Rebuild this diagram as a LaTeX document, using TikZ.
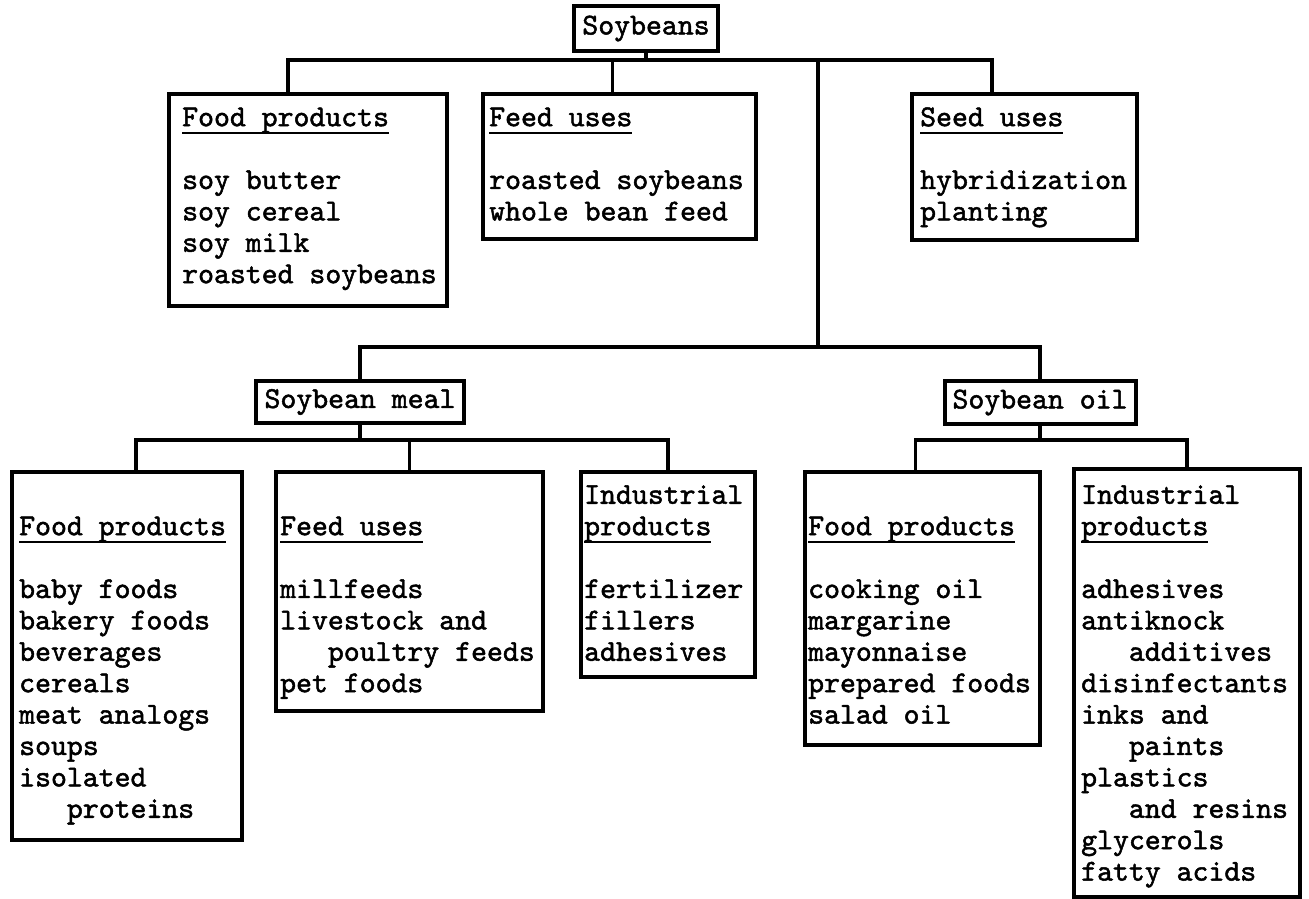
\documentclass[tikz,border=0pt]{standalone}
\usepackage{fontspec}
\newfontfamily\twfont{lmmono10-regular.otf}[FakeBold=1.6]
\newcommand\tf{\twfont\bfseries\fontsize{30.3}{31.4}\selectfont}
\newcommand\hdrline[1]{\setbox0=\hbox{#1}\rlap{\rule[-8pt]{\wd0}{2pt}}\box0}
\newcommand\ind{\phantom{xxx}}
\begin{document}
\begin{tikzpicture}[x=1pt,y=-1pt,
  box/.style={draw,line width=4pt,rectangle,inner sep=0pt,anchor=north west},
  lbl/.style={draw,line width=4pt,rectangle,inner sep=0pt,font=\tf},
  txt/.style={anchor=north west,inner sep=0pt,align=left,font=\tf},
  conn/.style={line width=3.5pt,line join=miter}]
\useasboundingbox[fill=white] (0,0) rectangle (1309,898);

% top level
\node[lbl,minimum width=144pt,minimum height=45pt] (soy) at (646,28.5) {Soybeans};
\node[box,minimum width=278pt,minimum height=212pt] (ft) at (167,92) {};
\node[box,minimum width=273pt,minimum height=145pt] (fdt) at (481,92) {};
\node[box,minimum width=225pt,minimum height=146pt] (st) at (910,92) {};
\node[txt] (ftx) at (182,104) {\strut\hdrline{Food products}\\ \\soy butter\\soy cereal\\soy milk\\roasted soybeans};
\node[txt] (fdtx) at (489,104) {\strut\hdrline{Feed uses}\\ \\roasted soybeans\\whole bean feed};
\node[txt] (stx) at (920,104) {\strut\hdrline{Seed uses}\\ \\hybridization\\planting};

% middle level
\node[lbl,minimum width=208pt,minimum height=42pt] (meal) at (360,402) {Soybean meal};
\node[lbl,minimum width=191pt,minimum height=43pt] (oil) at (1040,402.5) {Soybean oil};

% bottom level
\node[box,minimum width=230pt,minimum height=368pt] (fm) at (10,470) {};
\node[box,minimum width=267pt,minimum height=239pt] (fdm) at (274,470) {};
\node[box,minimum width=174pt,minimum height=205pt] (im) at (579,470) {};
\node[box,minimum width=235pt,minimum height=273pt] (fo) at (803,470) {};
\node[box,minimum width=226pt,minimum height=428pt] (io) at (1072,467) {};

\node[txt] (fmx) at (19,513) {\strut\hdrline{Food products}\\ \\baby foods\\bakery foods\\beverages\\cereals\\meat analogs\\soups\\isolated\\\ind proteins};
\node[txt] (fdmx) at (280,513) {\strut\hdrline{Feed uses}\\ \\millfeeds\\livestock and\\\ind poultry feeds\\pet foods};
\node[txt] (imx) at (584,481.6) {\strut Industrial\\\hdrline{products}\\ \\fertilizer\\fillers\\adhesives};
\node[txt] (fox) at (808,513) {\strut\hdrline{Food products}\\ \\cooking oil\\margarine\\mayonnaise\\prepared foods\\salad oil};
\node[txt] (iox) at (1081,481.6) {\strut Industrial\\\hdrline{products}\\ \\adhesives\\antiknock\\\ind additives\\disinfectants\\inks and\\\ind paints\\plastics\\\ind and resins\\glycerols\\fatty acids};

% connectors
\coordinate (t1) at (288,60);
\coordinate (t2) at (992,60);
\coordinate (b2) at (818,347);
\coordinate (b3) at (136,440);
\draw[conn] (ft.north -| t1) -- (t1) -- (t2) -- (st.north -| t2);
\draw[conn] (soy.south) -- (soy.south |- t1);
\draw[conn] ([xshift=-7pt]fdt.north) -- ([xshift=-7pt]fdt.north |- t1);
\draw[conn] (b2 |- t1) -- (b2);
\draw[conn] (meal.north) -- (meal.north |- b2) -- (oil.north |- b2) -- (oil.north);
\draw[conn] (fm.north -| b3) -- (b3) -- (im.north |- b3) -- (im.north);
\draw[conn] (meal.south) -- (meal.south |- b3);
\draw[conn] (fdm.north) -- (fdm.north |- b3);
\draw[conn] ([xshift=-7pt]fo.north) -- ([xshift=-7pt]fo.north |- b3) -- (io.north |- b3) -- (io.north);
\draw[conn] (oil.south) -- (oil.south |- b3);
\end{tikzpicture}
\end{document}
